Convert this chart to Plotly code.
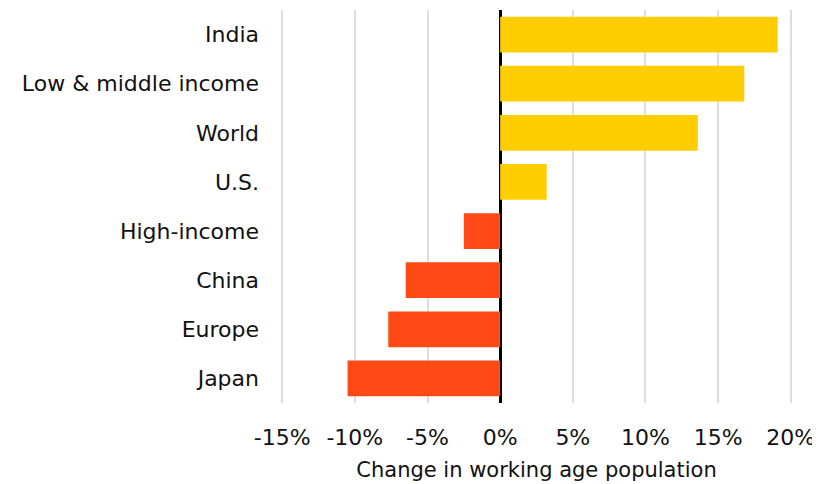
import plotly.graph_objects as go

categories = ["India", "Low & middle income", "World", "U.S.", "High-income", "China", "Europe", "Japan"]
values = [19.1, 16.8, 13.6, 3.2, -2.5, -6.5, -7.7, -10.5]
tick_vals = [-15, -10, -5, 0, 5, 10, 15, 20]
tick_text = ["-15%", "-10%", "-5%", "0%", "5%", "10%", "15%", "20%"]
x_title = "Change in working age population"

YELLOW = "#FFCE00"
ORANGE = "#FF4A17"
colors = [YELLOW if v >= 0 else ORANGE for v in values]

fig = go.Figure(go.Bar(
    x=values, y=categories, orientation="h",
    marker=dict(color=colors, line=dict(width=0)),
    width=0.73,
))

fig.update_layout(
    width=812, height=476,
    margin=dict(l=272, r=27, t=2, b=81),
    paper_bgcolor="white", plot_bgcolor="white",
    font=dict(family="DejaVu Sans", size=22, color="#111111"),
    showlegend=False,
    xaxis=dict(
        range=[-15.15, 20.15], tickvals=tick_vals, ticktext=tick_text,
        showgrid=True, gridcolor="#DCDCE3", gridwidth=1.5,
        zeroline=True, zerolinecolor="#000000", zerolinewidth=3,
        showline=False, ticks="", ticklabelstandoff=19,
        title=dict(text=x_title, standoff=13, font=dict(size=21)),
        tickfont=dict(size=22),
    ),
    yaxis=dict(
        categoryorder="array", categoryarray=categories[::-1],
        range=[-0.5, 7.5], showgrid=False, zeroline=False, showline=False,
        ticks="", ticklabelstandoff=20, tickfont=dict(size=22),
    ),
)

fig.write_html("out.html")
